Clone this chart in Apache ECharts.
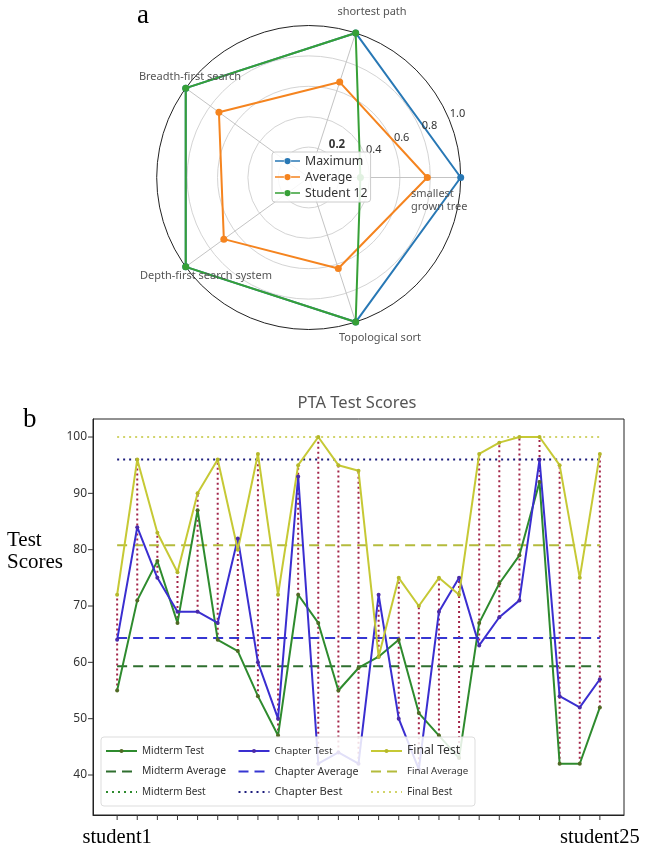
<!DOCTYPE html>
<html><head><meta charset="utf-8">
<script src="https://cdn.jsdelivr.net/npm/echarts@6/dist/echarts.min.js"></script>
<style>html,body{margin:0;padding:0;background:#fff}#c{width:648px;height:853px}</style>
</head><body><div id="c"></div>
<script>
// ---- Radar (a) data ----
const radarIndicators = ['smallest\ngrown tree', 'shortest path', 'Breadth-first search', 'Depth-first search system', 'Topological sort'];
const radarMaximum = [1.0, 1.0, 1.0, 1.0, 1.0];
const radarAverage = [0.78, 0.66, 0.73, 0.69, 0.63];
const radarStudent12 = [0.34, 1.0, 1.0, 1.0, 1.0];
const radarSeriesNames = ['Maximum', 'Average', 'Student 12'];
const radialTicks = [0.2, 0.4, 0.6, 0.8, 1.0];

// ---- Line chart (b) data ----
const students = ['student1','student2','student3','student4','student5','student6','student7','student8','student9','student10','student11','student12','student13','student14','student15','student16','student17','student18','student19','student20','student21','student22','student23','student24','student25'];
const midterm   = [55, 71, 78, 67, 87, 64, 62, 54, 47, 72, 67, 55, 59, 61, 64, 51, 47, 43, 67, 74, 79, 92, 42, 42, 52];
const chapter   = [64, 84, 75, 69, 69, 67, 82, 60, 50, 93, 42, 44, 42, 72, 50, 41, 69, 75, 63, 68, 71, 96, 54, 52, 57];
const finalTest = [72, 96, 83, 76, 90, 96, 80, 97, 72, 95, 100, 95, 94, 61, 75, 70, 75, 72, 97, 99, 100, 100, 95, 75, 97];
const midtermAverage = [59.3];
const chapterAverage = [64.3];
const chapterBest = [96];
const finalAverage = [80.8];
const finalBest = [100];
const yTicks = [40, 50, 60, 70, 80, 90, 100];
const xLabelIdx = [0, 24];

const sans = "'Noto Sans', 'DejaVu Sans', sans-serif";
const serif = "'Liberation Serif', 'DejaVu Serif', serif";

const chart = echarts.init(document.getElementById('c'), null, {renderer: 'canvas'});
const lastIdx = students.length - 1;
const X_MIN = -1.2, X_MAX = 25.2, Y_MIN = 32.9, Y_MAX = 103.2;
const pts = arr => arr.map((v, i) => [i, v]);
const flat = arr => [[0, arr[0]], [lastIdx, arr[0]]];
const vlineData = students.map((_, i) => [i, Math.min(midterm[i], chapter[i], finalTest[i]), Math.max(midterm[i], chapter[i], finalTest[i])]);
const dotIcon = 'path://M0 4.2H10V5.8H0Z M18 4.2H28V5.8H18Z M10.5 5A3.5 3.5 0 1 1 17.5 5A3.5 3.5 0 1 1 10.5 5Z';

const cRad = [308.7, 177.5];
const RAD = 152;
// layout positions of the indicator name texts
const namePos = [[411, 200, 'left'], [372, 12, 'center'], [190, 77, 'center'], [206, 276, 'center'], [380, 338, 'center']];

const graphics = [
  {type: 'text', left: 137, top: 2, style: {text: 'a', font: '27px ' + serif, fill: '#000'}},
  {type: 'text', left: 23, top: 406, style: {text: 'b', font: '27px ' + serif, fill: '#000'}},
  {type: 'text', x: 357, y: 403, style: {text: 'PTA Test Scores', font: '16.5px ' + sans, fill: '#555', textAlign: 'center', textVerticalAlign: 'middle'}},
  {type: 'text', x: 7, y: 551, style: {text: 'Test\nScores', font: '21px ' + serif, fill: '#000', textAlign: 'left', textVerticalAlign: 'middle', lineHeight: 22}}
];
radarIndicators.forEach((n, i) => {
  graphics.push({type: 'text', x: namePos[i][0], y: namePos[i][1], z: 5,
    style: {text: n, font: '11px ' + sans, fill: '#555', textAlign: namePos[i][2], textVerticalAlign: 'middle', lineHeight: 13}});
});
// radial tick labels along a ray at ~23 deg, just outside each ring
const labAng = 23.3 * Math.PI / 180;
radialTicks.forEach((v, i) => {
  let x, y, bold = false;
  if (i === 0) { x = 337; y = 145; bold = true; }
  else { const r = RAD * v + 10; x = cRad[0] + r * Math.cos(labAng); y = cRad[1] - r * Math.sin(labAng); }
  graphics.push({type: 'text', x: x, y: y, z: 3,
    style: {text: v.toFixed(1), font: (bold ? 'bold 11.5px ' : '11px ') + sans, fill: '#333', textAlign: 'center', textVerticalAlign: 'middle'}});
});

const noSym = {opacity: 0};
const lineLegendData = [
  {name: 'Midterm Test', textStyle: {fontSize: 10, width: 89}},
  {name: 'Midterm Average', itemStyle: noSym, textStyle: {fontSize: 10.3, width: 89}},
  {name: 'Midterm Best', itemStyle: noSym, textStyle: {fontSize: 10, width: 89}},
  {name: 'Chapter Test', textStyle: {fontSize: 9.8, width: 89}},
  {name: 'Chapter Average', itemStyle: noSym, textStyle: {fontSize: 10.7, width: 89}},
  {name: 'Chapter Best', itemStyle: noSym, textStyle: {fontSize: 11.2, width: 89}},
  {name: 'Final Test', textStyle: {fontSize: 12.2, width: 62}},
  {name: 'Final Average', itemStyle: noSym, textStyle: {fontSize: 9.7, width: 62}},
  {name: 'Final Best', itemStyle: noSym, textStyle: {fontSize: 10, width: 62}}
];

const tickStyle = {stroke: '#333', lineWidth: 1};

const option = {
  animation: false,
  backgroundColor: '#fff',
  graphic: graphics,
  radar: {
    center: cRad, radius: RAD, startAngle: 0, splitNumber: 5, shape: 'circle',
    indicator: radarIndicators.map(n => ({name: n, min: 0, max: 1})),
    axisName: {show: false},
    axisLine: {lineStyle: {color: '#c4c4c4', width: 1}},
    splitLine: {lineStyle: {color: ['#d4d4d4', '#d4d4d4', '#d4d4d4', '#d4d4d4', '#d4d4d4', '#222'], width: 1}},
    splitArea: {show: false}
  },
  grid: {left: 93, top: 419, width: 531, height: 396, show: true, borderColor: '#222', borderWidth: 1},
  xAxis: {
    type: 'value', min: X_MIN, max: X_MAX,
    axisLine: {show: true, onZero: false, lineStyle: {color: '#222'}},
    axisTick: {show: false},
    axisLabel: {customValues: xLabelIdx, formatter: v => students[v], fontFamily: serif, fontSize: 20.5, color: '#000', margin: 12},
    splitLine: {show: false}
  },
  yAxis: {
    type: 'value', min: Y_MIN, max: Y_MAX,
    axisLine: {show: true, onZero: false, lineStyle: {color: '#222'}},
    axisTick: {show: false},
    axisLabel: {customValues: yTicks, fontFamily: sans, fontSize: 12, color: '#333', margin: 6},
    splitLine: {show: false}
  },
  legend: [
    {
      data: radarSeriesNames.map(n => ({name: n, icon: dotIcon})),
      orient: 'vertical', left: 272, top: 152, itemWidth: 25, itemHeight: 9, itemGap: 0,
      padding: [1, 3, 1, 3], backgroundColor: 'rgba(255,255,255,0.85)', borderColor: '#ccc', borderWidth: 1, borderRadius: 3,
      textStyle: {fontSize: 12.3, color: '#333', fontFamily: sans, lineHeight: 16}
    },
    {
      data: lineLegendData,
      orient: 'vertical', left: 101, top: 737, height: 56, itemWidth: 31, itemHeight: 5, itemGap: 6.5,
      padding: [7, 6, 7, 4], backgroundColor: 'rgba(255,255,255,0.85)', borderColor: '#ddd', borderWidth: 1, borderRadius: 3,
      textStyle: {fontSize: 11, color: '#333', fontFamily: sans, lineHeight: 14}
    }
  ],
  series: [
    {
      type: 'radar', symbol: 'circle', symbolSize: 7,
      data: [
        {name: 'Maximum', value: radarMaximum, lineStyle: {color: '#2878b5', width: 2}, itemStyle: {color: '#2878b5'}},
        {name: 'Average', value: radarAverage, lineStyle: {color: '#f5841f', width: 2}, itemStyle: {color: '#f5841f'}},
        {name: 'Student 12', value: radarStudent12, lineStyle: {color: '#36a036', width: 2}, itemStyle: {color: '#36a036'}}
      ]
    },
    {
      // x-axis tick marks at each student
      type: 'custom', name: 'xticks', clip: false, silent: true, z: 5,
      renderItem: (params, api) => {
        const p = api.coord([api.value(0), Y_MIN]);
        return {type: 'line', shape: {x1: p[0], y1: p[1], x2: p[0], y2: p[1] + 5}, style: tickStyle};
      },
      encode: {x: 0, y: 1},
      data: students.map((_, i) => [i, Y_MIN])
    },
    {
      // y-axis tick marks
      type: 'custom', name: 'yticks', clip: false, silent: true, z: 5,
      renderItem: (params, api) => {
        const p = api.coord([X_MIN, api.value(1)]);
        return {type: 'line', shape: {x1: p[0] - 5, y1: p[1], x2: p[0], y2: p[1]}, style: tickStyle};
      },
      encode: {x: 0, y: 1},
      data: yTicks.map(v => [X_MIN, v])
    },
    {
      type: 'custom', name: 'ranges', z: 1,
      renderItem: (params, api) => {
        const lo = api.coord([api.value(0), api.value(1)]);
        const hi = api.coord([api.value(0), api.value(2)]);
        return {type: 'line', shape: {x1: lo[0], y1: lo[1], x2: hi[0], y2: hi[1]},
          style: {stroke: '#a32448', lineWidth: 2, lineDash: [2, 3]}};
      },
      encode: {x: 0, y: [1, 2]},
      data: vlineData
    },
    {name: 'Midterm Test', type: 'line', data: pts(midterm), z: 3, symbol: 'circle', symbolSize: 4,
      lineStyle: {color: '#2e8b2e', width: 2}, itemStyle: {color: '#4f6a24'}},
    {name: 'Midterm Average', type: 'line', data: flat(midtermAverage), z: 2, symbol: 'none',
      lineStyle: {color: '#2f6f2f', width: 2, type: [10, 6]}, itemStyle: {color: '#2f6f2f'}},
    {name: 'Midterm Best', type: 'line', data: [], z: 2, symbol: 'none',
      lineStyle: {color: '#2e8b2e', width: 2, type: [2, 4]}, itemStyle: {color: '#2e8b2e'}},
    {name: 'Chapter Test', type: 'line', data: pts(chapter), z: 3, symbol: 'circle', symbolSize: 4,
      lineStyle: {color: '#3a2ed0', width: 2}, itemStyle: {color: '#4a2aa8'}},
    {name: 'Chapter Average', type: 'line', data: flat(chapterAverage), z: 2, symbol: 'none',
      lineStyle: {color: '#3636d2', width: 2, type: [10, 6]}, itemStyle: {color: '#3636d2'}},
    {name: 'Chapter Best', type: 'line', data: flat(chapterBest), z: 2, symbol: 'none',
      lineStyle: {color: '#1c1c7c', width: 2, type: [2, 4]}, itemStyle: {color: '#1c1c7c'}},
    {name: 'Final Test', type: 'line', data: pts(finalTest), z: 3, symbol: 'circle', symbolSize: 4,
      lineStyle: {color: '#c6c935', width: 2}, itemStyle: {color: '#b5b82a'}},
    {name: 'Final Average', type: 'line', data: flat(finalAverage), z: 2, symbol: 'none',
      lineStyle: {color: '#b4bb3c', width: 2, type: [10, 6]}, itemStyle: {color: '#b4bb3c'}},
    {name: 'Final Best', type: 'line', data: flat(finalBest), z: 2, symbol: 'none',
      lineStyle: {color: '#d2d46a', width: 2, type: [2, 4]}, itemStyle: {color: '#d2d46a'}}
  ]
};
chart.setOption(option);
</script>
</body></html>
